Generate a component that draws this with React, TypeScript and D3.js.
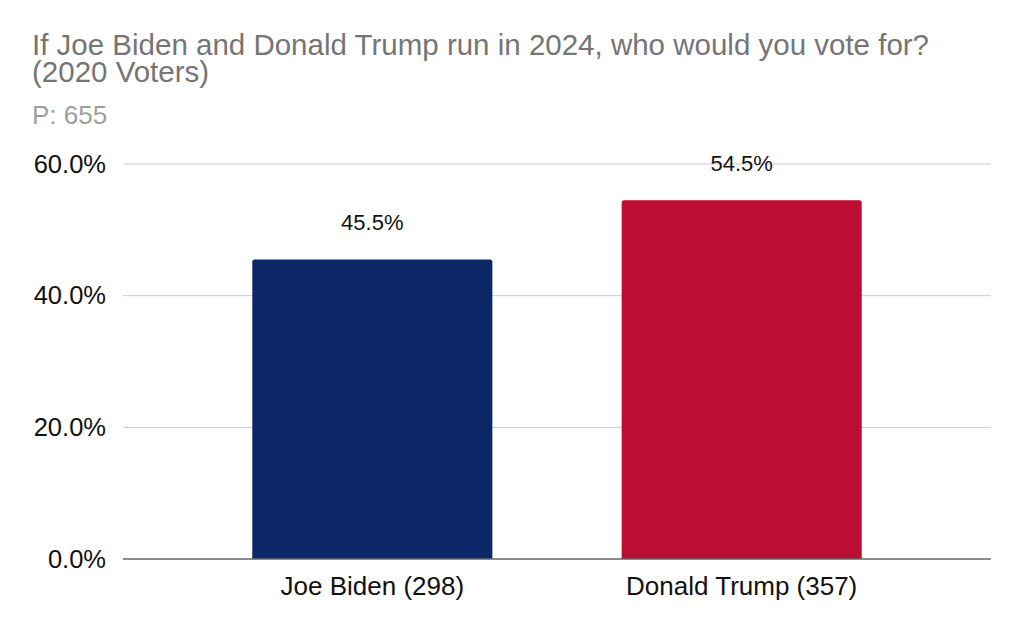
import React from "react";
import * as d3 from "d3";

const categories = ["Joe Biden (298)", "Donald Trump (357)"];
const values = [0.455, 0.545];
const valueLabels = ["45.5%", "54.5%"];
const barColors = ["#0c2768", "#bd0d32"];
const yTicks = [0, 0.2, 0.4, 0.6];
const titleLines = ["If Joe Biden and Donald Trump run in 2024, who would you vote for?", "(2020 Voters)"];
const subtitle = "P: 655";

const W = 1024;
const H = 631;
const FONT = "'Liberation Sans', Arial, Helvetica, sans-serif";

export default function App() {
  const x = d3.scaleBand<string>().domain(categories).range([123, 991]).paddingInner(0.35).paddingOuter(0.35);
  const y = d3.scaleLinear().domain([0, 0.6]).range([559, 164]);
  const fmt = d3.format(".1%");
  const r = 2.5;

  const barPath = (x0: number, y0: number, w: number, h: number) => {
    const p = d3.path();
    p.moveTo(x0, y0 + h);
    p.lineTo(x0, y0 + r);
    p.arcTo(x0, y0, x0 + r, y0, r);
    p.lineTo(x0 + w - r, y0);
    p.arcTo(x0 + w, y0, x0 + w, y0 + r, r);
    p.lineTo(x0 + w, y0 + h);
    p.closePath();
    return p.toString();
  };

  return (
    <svg width={W} height={H} style={{ position: "absolute", left: 0, top: 0, background: "#fff" }} fontFamily={FONT}>
      <rect x={0} y={0} width={W} height={H} fill="#fff" />
      {titleLines.map((t, i) => (
        <text key={t} x={32} y={54.5 + i * 27.5} fontSize={29.5} fill="#757575">{t}</text>
      ))}
      <text x={32} y={123.5} fontSize={26} fill="#9e9e9e">{subtitle}</text>
      {yTicks.map((t) => (
        <g key={t}>
          {t !== 0 && <line x1={123} x2={991} y1={y(t)} y2={y(t)} stroke="#cccccc" strokeWidth={1} />}
          <text x={106} y={y(t) + 8.5} fontSize={25.5} textAnchor="end" fill="#111">{fmt(t)}</text>
        </g>
      ))}
      {categories.map((c, i) => {
        const bx = x(c)!;
        const bw = x.bandwidth();
        const by = y(values[i]);
        return (
          <g key={c}>
            <path d={barPath(bx, by, bw, y(0) - by)} fill={barColors[i]} />
            <text x={bx + bw / 2} y={by - 29} fontSize={22} textAnchor="middle" fill="#111">{valueLabels[i]}</text>
            <text x={bx + bw / 2} y={595} fontSize={26} textAnchor="middle" fill="#111">{c}</text>
          </g>
        );
      })}
      <line x1={123} x2={991} y1={y(0)} y2={y(0)} stroke="#666" strokeWidth={1.5} />
    </svg>
  );
}
